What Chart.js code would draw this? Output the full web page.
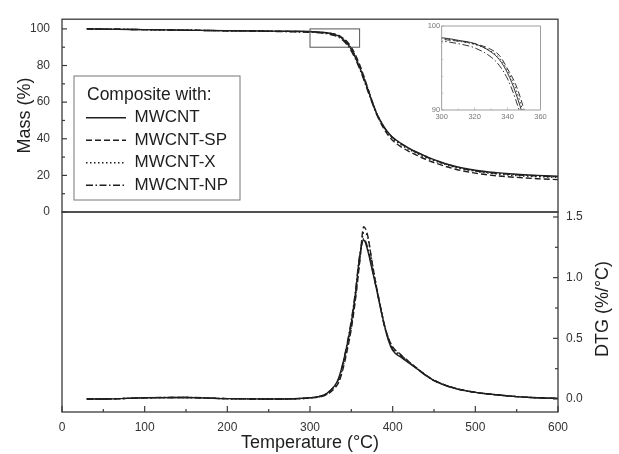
<!DOCTYPE html>
<html>
<head>
<meta charset="utf-8">
<script src="https://cdn.jsdelivr.net/npm/chart.js@4.4.1/dist/chart.umd.min.js"></script>
<style>
  html, body { margin: 0; padding: 0; background: #fff; }
  #wrap { position: relative; width: 619px; height: 454px; }
  #wrap canvas { position: absolute; left: 0; top: 0; }
</style>
</head>
<body>
<div id="wrap">
  <canvas id="massChart" width="619" height="454"></canvas>
  <canvas id="dtgChart" width="619" height="454"></canvas>
  <canvas id="insetChart" width="619" height="454"></canvas>
</div>
<script>
// Temperature (°C) shared by every curve
const temps = [30, 50, 100, 150, 200, 250, 280, 300, 310, 320, 330, 335, 340, 345, 350, 355, 360, 365,
               370, 375, 380, 385, 390, 395, 400, 410, 420, 430, 440, 450, 475, 500, 525, 550, 575, 600];

// Mass (%)
const massMWCNT = [100, 99.9, 99.6, 99.3, 99.0, 98.8, 98.7, 98.6, 98.3, 97.9, 96.9, 96.0, 94.4, 92.0, 88.8, 84.3, 79.0, 73.2,
                   66.8, 60.5, 54.5, 50.0, 46.2, 43.2, 40.8, 37.5, 34.8, 32.5, 30.5, 28.6, 25.0, 22.8, 21.5, 20.6, 20.0, 19.5];
const massSP    = [100, 99.9, 99.6, 99.3, 99.0, 98.8, 98.6, 98.4, 98.2, 97.9, 97.2, 96.5, 94.9, 93.0, 90.0, 85.8, 80.5, 74.3,
                   67.5, 60.6, 54.3, 49.2, 45.0, 41.6, 39.0, 35.6, 33.0, 30.8, 28.8, 27.0, 23.5, 21.2, 19.8, 18.9, 18.2, 17.7];
const massX     = [100, 99.9, 99.6, 99.3, 99.0, 98.8, 98.6, 98.5, 98.2, 97.8, 97.0, 96.2, 94.7, 92.5, 89.3, 85.0, 79.9, 74.0,
                   67.4, 60.8, 54.7, 49.8, 45.8, 42.6, 40.1, 36.8, 34.1, 31.8, 29.8, 28.0, 24.5, 22.2, 20.8, 19.9, 19.3, 18.9];
const massNP    = [100, 99.9, 99.6, 99.3, 99.0, 98.7, 98.4, 98.2, 97.9, 97.4, 96.3, 95.3, 93.7, 91.2, 87.9, 83.5, 78.2, 72.4,
                   66.0, 59.8, 54.0, 49.6, 45.9, 43.0, 40.6, 37.3, 34.6, 32.3, 30.2, 28.4, 24.8, 22.5, 21.2, 20.3, 19.7, 19.2];

// DTG (%/°C)
const dtgMWCNT = [0, 0, 0.01, 0.013, 0.003, 0, 0.002, 0.01, 0.02, 0.045, 0.11, 0.18, 0.30, 0.45, 0.63, 0.87, 1.17, 1.31,
                  1.22, 1.07, 0.92, 0.76, 0.61, 0.48, 0.40, 0.345, 0.295, 0.245, 0.195, 0.152, 0.088, 0.055, 0.035, 0.02, 0.01, 0.005];
const dtgSP    = [0, 0, 0.01, 0.012, 0.003, 0, 0.002, 0.008, 0.015, 0.035, 0.09, 0.14, 0.25, 0.40, 0.58, 0.82, 1.12, 1.42,
                  1.34, 1.13, 0.94, 0.77, 0.61, 0.50, 0.43, 0.365, 0.305, 0.25, 0.198, 0.155, 0.09, 0.055, 0.035, 0.02, 0.01, 0.005];
const dtgX     = [0, 0, 0.01, 0.012, 0.003, 0, 0.002, 0.008, 0.017, 0.04, 0.10, 0.15, 0.27, 0.42, 0.60, 0.84, 1.13, 1.37,
                  1.33, 1.13, 0.94, 0.77, 0.61, 0.50, 0.425, 0.36, 0.305, 0.25, 0.198, 0.155, 0.09, 0.055, 0.035, 0.02, 0.01, 0.005];
const dtgNP    = [0, 0, 0.01, 0.013, 0.003, 0, 0.002, 0.01, 0.02, 0.045, 0.11, 0.17, 0.30, 0.46, 0.65, 0.89, 1.18, 1.32,
                  1.24, 1.08, 0.92, 0.76, 0.60, 0.49, 0.41, 0.355, 0.30, 0.25, 0.195, 0.152, 0.088, 0.055, 0.035, 0.02, 0.01, 0.005];

const seriesNames = ['MWCNT', 'MWCNT-SP', 'MWCNT-X', 'MWCNT-NP'];
const zoomBox = { xMin: 300, xMax: 360, yMin: 90, yMax: 100 };

const seriesDash = [[], [6, 3], [1.5, 2.5], [7, 2.5, 1.5, 2.5]];
const INK = '#1e1e1e';
const FRAME = '#3a3a3a';
const FONT = '"Liberation Sans", Arial, sans-serif';

Chart.defaults.font.family = FONT;
Chart.defaults.color = '#333';

function lineSets(ys, width) {
    return ys.map((vals, i) => ({
        label: seriesNames[i],
        data: temps.map((t, k) => ({ x: t, y: vals[k] })),
        borderColor: INK,
        borderWidth: width,
        borderDash: seriesDash[i],
        pointRadius: 0,
        cubicInterpolationMode: 'monotone',
        fill: false
    }));
}

// box round the plot area
const framePlugin = {
    id: 'frame',
    afterDatasetsDraw(chart, args, opts) {
        const { ctx, chartArea: a } = chart;
        ctx.save();
        ctx.strokeStyle = opts.color || FRAME;
        ctx.lineWidth = opts.width || 1.3;
        ctx.strokeRect(a.left, a.top, a.right - a.left, a.bottom - a.top);
        ctx.restore();
    }
};

// tick marks pointing into the plot, short ones where the label is empty
const innerTicks = {
    id: 'innerTicks',
    afterDatasetsDraw(chart, args, opts) {
        const { ctx, chartArea: a } = chart;
        ctx.save();
        ctx.strokeStyle = opts.color || FRAME;
        ctx.lineWidth = opts.width || 1.2;
        (opts.axes || []).forEach(ax => {
            const scale = chart.scales[ax.id];
            scale.ticks.forEach(t => {
                const p = scale.getPixelForValue(t.value);
                const len = t.label === '' ? ax.minor : ax.major;
                ctx.beginPath();
                if (ax.side === 'bottom') { ctx.moveTo(p, a.bottom); ctx.lineTo(p, a.bottom - len); }
                else if (ax.side === 'left') { ctx.moveTo(a.left, p); ctx.lineTo(a.left + len, p); }
                else { ctx.moveTo(a.right, p); ctx.lineTo(a.right - len, p); }
                ctx.stroke();
            });
        });
        ctx.restore();
    }
};

// the zoomed region shown in the inset
const zoomRect = {
    id: 'zoomRect',
    afterDatasetsDraw(chart) {
        const { ctx, scales: { x, y } } = chart;
        const l = x.getPixelForValue(zoomBox.xMin), r = x.getPixelForValue(zoomBox.xMax);
        const t = y.getPixelForValue(zoomBox.yMax), b = y.getPixelForValue(zoomBox.yMin);
        ctx.save();
        ctx.strokeStyle = '#555';
        ctx.lineWidth = 1;
        ctx.strokeRect(l, t, r - l, b - t);
        ctx.restore();
    }
};

// move the legend inside the plot and put a box round it
const legendPlace = {
    id: 'legendPlace',
    afterUpdate(chart, args, opts) {
        const lg = chart.legend;
        if (!lg) return;
        const fullWidth = Math.max(lg.width, opts.box[2]);
        lg.left = opts.left;
        lg.top = opts.top;
        // the title is centred on lg.width: size it so the title starts at titleX,
        // while right/bottom (used for clipping) keep the full box
        const ctx = chart.ctx;
        ctx.save();
        ctx.font = lg.options.title.font.size + 'px ' + FONT;
        const tw = ctx.measureText(lg.options.title.text).width;
        ctx.restore();
        lg.width = 2 * (opts.titleX - lg.left) + tw;
        lg.right = lg.left + fullWidth;
        lg.bottom = lg.top + lg.height;
    },
    afterDraw(chart, args, opts) {
        const { ctx } = chart;
        const [bx, by, bw, bh] = opts.box;
        ctx.save();
        ctx.strokeStyle = '#777';
        ctx.lineWidth = 1;
        ctx.strokeRect(bx, by, bw, bh);
        ctx.restore();
    }
};

// right axis title, read bottom to top
const sideTitle = {
    id: 'sideTitle',
    afterDraw(chart, args, opts) {
        const { ctx, chartArea: a } = chart;
        ctx.save();
        ctx.translate(chart.width - opts.offset, (a.top + a.bottom) / 2 + opts.shift);
        ctx.rotate(-Math.PI / 2);
        ctx.font = '18px ' + FONT;
        ctx.fillStyle = INK;
        ctx.textAlign = 'center';
        ctx.textBaseline = 'middle';
        ctx.fillText(opts.text, 0, 0);
        ctx.restore();
    }
};

const hidden = { grid: { display: false, drawTicks: false }, border: { display: false } };

// Mass panel
new Chart(document.getElementById('massChart'), {
    type: 'line',
    data: { datasets: lineSets([massMWCNT, massSP, massX, massNP], 1.4) },
    options: {
        responsive: false,
        animation: false,
        events: [],
        layout: { padding: { left: 0, top: 12, right: 61, bottom: 242 } },
        scales: {
            x: { type: 'linear', display: false, min: 0, max: 600 },
            y: {
                ...hidden,
                min: 0, max: 105.3,
                afterFit: s => { s.width = 62; },
                ticks: {
                    stepSize: 10, includeBounds: false, autoSkip: false, padding: 12,
                    font: { size: 12 },
                    callback: v => v % 20 === 0 ? v : ''
                },
                title: { display: true, text: 'Mass (%)', color: INK, font: { size: 18 }, padding: { top: 14, bottom: 0 } }
            }
        },
        plugins: {
            legend: {
                position: 'chartArea',
                align: 'start',
                title: {
                    display: true, text: 'Composite with:', color: INK, position: 'center',
                    font: { size: 17.5, lineHeight: 1 }, padding: 0
                },
                labels: {
                    usePointStyle: true, pointStyle: 'line', pointStyleWidth: 40,
                    color: INK, font: { size: 17 }, padding: 5.5,
                    // point style would drop the dash pattern, so take it from the dataset
                    generateLabels: chart => Chart.defaults.plugins.legend.labels.generateLabels(chart).map(item => {
                        const ds = chart.data.datasets[item.datasetIndex];
                        return { ...item, lineDash: ds.borderDash, lineWidth: 1.3, strokeStyle: ds.borderColor };
                    })
                }
            },
            tooltip: { enabled: false },
            innerTicks: { axes: [{ id: 'y', side: 'left', major: 5, minor: 3 }] },
            legendPlace: { left: 80.5, top: 86.25, titleX: 87, box: [74, 76, 166, 124] }
        }
    },
    plugins: [framePlugin, innerTicks, zoomRect, legendPlace]
});

// DTG panel
new Chart(document.getElementById('dtgChart'), {
    type: 'line',
    data: { datasets: lineSets([dtgMWCNT, dtgSP, dtgX, dtgNP], 1.4) },
    options: {
        responsive: false,
        animation: false,
        events: [],
        layout: { padding: { left: 62, top: 212, right: 0, bottom: 0 } },
        scales: {
            x: {
                ...hidden,
                type: 'linear', min: 0, max: 600,
                afterFit: s => { s.height = 42; },
                ticks: {
                    stepSize: 50, autoSkip: false, maxRotation: 0, padding: 8,
                    font: { size: 12 },
                    callback: v => v % 100 === 0 ? v : ''
                },
                title: { display: true, text: 'Temperature (°C)', color: INK, font: { size: 18 }, padding: { top: 0, bottom: 0 } }
            },
            y: {
                ...hidden,
                position: 'right',
                min: -0.107, max: 1.541,
                afterFit: s => { s.width = 61; },
                ticks: {
                    stepSize: 0.25, includeBounds: false, autoSkip: false, padding: 8,
                    font: { size: 12 },
                    callback: v => Math.round(v * 4) % 2 === 0 ? v.toFixed(1) : ''
                }
            }
        },
        plugins: {
            legend: { display: false },
            tooltip: { enabled: false },
            innerTicks: {
                axes: [
                    { id: 'x', side: 'bottom', major: 6, minor: 3 },
                    { id: 'y', side: 'right', major: 5, minor: 3 }
                ]
            },
            sideTitle: { text: 'DTG (%/°C)', offset: 16, shift: -3 }
        }
    },
    plugins: [framePlugin, innerTicks, sideTitle]
});

// Inset: zoom on the onset of mass loss
new Chart(document.getElementById('insetChart'), {
    type: 'line',
    data: { datasets: lineSets([massMWCNT, massSP, massX, massNP], 0.9) },
    options: {
        responsive: false,
        animation: false,
        events: [],
        layout: { padding: { left: 421.7, top: 26, right: 78.5, bottom: 332 } },
        scales: {
            x: {
                ...hidden,
                type: 'linear', min: zoomBox.xMin, max: zoomBox.xMax,
                afterFit: s => { s.height = 12; },
                ticks: {
                    stepSize: 10, autoSkip: false, maxRotation: 0, padding: 2,
                    color: '#777', font: { size: 7.5 },
                    callback: v => v % 20 === 0 ? v : ''
                }
            },
            y: {
                ...hidden,
                min: zoomBox.yMin, max: zoomBox.yMax,
                afterFit: s => { s.width = 20; },
                ticks: {
                    stepSize: 2, autoSkip: false, padding: 1.5,
                    color: '#777', font: { size: 7.5 },
                    callback: v => v % 10 === 0 ? v : ''
                }
            }
        },
        plugins: {
            legend: { display: false },
            tooltip: { enabled: false },
            frame: { color: '#888', width: 0.8 },
            innerTicks: {
                color: '#aaa', width: 0.7,
                axes: [
                    { id: 'x', side: 'bottom', major: 2.5, minor: 1.5 },
                    { id: 'y', side: 'left', major: 2.5, minor: 1.5 }
                ]
            }
        }
    },
    plugins: [framePlugin, innerTicks]
});
</script>
</body>
</html>
